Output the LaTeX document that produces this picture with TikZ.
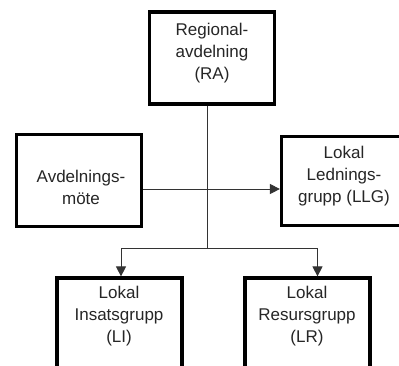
\documentclass[tikz,border=0pt]{standalone}
\usepackage{fontspec}
\setmainfont{Liberation Sans}
\usetikzlibrary{arrows.meta}
\begin{document}
\begin{tikzpicture}[x=1pt,y=-1pt,
  box/.style={draw=black,line width=3.2pt,rectangle,minimum width=125pt,minimum height=92pt,inner sep=0pt},
  txt/.style={align=center,font=\fontsize{17}{22}\selectfont,text=black!85},
  conn/.style={draw=black!80,line width=0.9pt},
  arr/.style={conn,-{Triangle[length=10pt,width=10pt]}}]
\useasboundingbox (0,0) rectangle (399,365);
\clip (0,0) rectangle (399,365);
\fill[white] (0,0) rectangle (399,365);
\node[box] (RA) at (212,58) {};
\node[box] (AM) at (79,180.5) {};
\node[box,minimum height=89pt] (LLG) at (344,181) {};
\node[box] (LI) at (119.5,324) {};
\node[box] (LR) at (307.5,324) {};
\node[txt] (tRA) at (212,53) {Regional-\\avdelning\\(RA)};
\node[txt] (tAM) at (81,187) {Avdelnings-\\möte};
\node[txt] (tLLG) at (344,176) {Lokal\\Lednings-\\grupp (LLG)};
\node[txt] (tLI) at (119,316) {Lokal\\Insatsgrupp\\(LI)};
\node[txt] (tLR) at (307,316) {Lokal\\Resursgrupp\\(LR)};
\coordinate (j) at (207,248);
\coordinate (bl) at (121,248);
\coordinate (br) at (317.5,248);
\coordinate (hy) at (210,189);
\draw[conn] (j |- RA.south) -- (j);
\draw[arr] (j) -- (bl) -- (bl |- LI.north);
\draw[arr] (j) -- (br) -- (br |- LR.north);
\draw[arr] (AM.east |- hy) -- (LLG.west |- hy);
\end{tikzpicture}
\end{document}
